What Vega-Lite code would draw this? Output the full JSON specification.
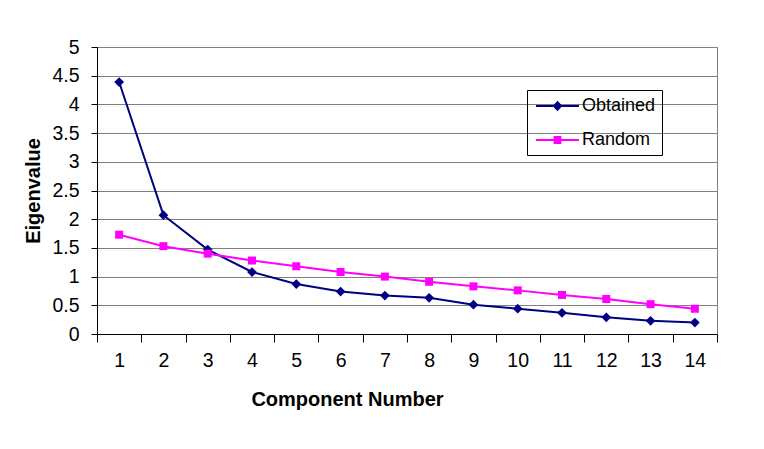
{
  "$schema": "https://vega.github.io/schema/vega-lite/v6.json",
  "width": 620,
  "height": 287,
  "autosize": {"type": "none"},
  "padding": {"left": 97, "top": 47, "right": 47, "bottom": 115},
  "background": "white",
  "config": {
    "font": "Liberation Sans",
    "view": {"stroke": "#808080", "strokeWidth": 1}
  },
  "data": {
    "values": [
      {"component": 1, "series": "Obtained", "value": 4.39},
      {"component": 2, "series": "Obtained", "value": 2.07},
      {"component": 3, "series": "Obtained", "value": 1.47},
      {"component": 4, "series": "Obtained", "value": 1.08},
      {"component": 5, "series": "Obtained", "value": 0.87},
      {"component": 6, "series": "Obtained", "value": 0.74},
      {"component": 7, "series": "Obtained", "value": 0.67},
      {"component": 8, "series": "Obtained", "value": 0.63},
      {"component": 9, "series": "Obtained", "value": 0.51},
      {"component": 10, "series": "Obtained", "value": 0.44},
      {"component": 11, "series": "Obtained", "value": 0.37},
      {"component": 12, "series": "Obtained", "value": 0.29},
      {"component": 13, "series": "Obtained", "value": 0.23},
      {"component": 14, "series": "Obtained", "value": 0.2},
      {"component": 1, "series": "Random", "value": 1.73},
      {"component": 2, "series": "Random", "value": 1.53},
      {"component": 3, "series": "Random", "value": 1.4},
      {"component": 4, "series": "Random", "value": 1.28},
      {"component": 5, "series": "Random", "value": 1.18},
      {"component": 6, "series": "Random", "value": 1.08},
      {"component": 7, "series": "Random", "value": 1.0},
      {"component": 8, "series": "Random", "value": 0.91},
      {"component": 9, "series": "Random", "value": 0.83},
      {"component": 10, "series": "Random", "value": 0.76},
      {"component": 11, "series": "Random", "value": 0.68},
      {"component": 12, "series": "Random", "value": 0.61},
      {"component": 13, "series": "Random", "value": 0.52},
      {"component": 14, "series": "Random", "value": 0.44}
    ]
  },
  "encoding": {
    "x": {
      "field": "component",
      "type": "quantitative",
      "scale": {"domain": [0.5, 14.5], "nice": false, "zero": false},
      "axis": {
        "values": [0.5, 1, 1.5, 2, 2.5, 3, 3.5, 4, 4.5, 5, 5.5, 6, 6.5, 7, 7.5, 8, 8.5, 9, 9.5, 10, 10.5, 11, 11.5, 12, 12.5, 13, 13.5, 14, 14.5],
        "labelExpr": "datum.value % 1 == 0 ? '' + datum.value : ''",
        "labelOverlap": false,
        "labelFlush": false,
        "labelFontSize": 19.5,
        "labelColor": "#000",
        "labelPadding": 9,
        "tickSize": 8,
        "tickColor": "#000",
        "tickOpacity": {"condition": {"test": "datum.value % 1 != 0", "value": 1}, "value": 0},
        "domainColor": "#000",
        "grid": false,
        "title": "Component Number",
        "titleFontSize": 20,
        "titleFontWeight": "bold",
        "titleColor": "#000",
        "titleX": 250,
        "titleY": 71,
        "titleAlign": "center",
        "titleBaseline": "alphabetic"
      }
    },
    "y": {
      "field": "value",
      "type": "quantitative",
      "scale": {"domain": [0, 5], "nice": false},
      "axis": {
        "values": [0, 0.5, 1, 1.5, 2, 2.5, 3, 3.5, 4, 4.5, 5],
        "labelExpr": "'' + datum.value",
        "labelFontSize": 19.5,
        "labelColor": "#000",
        "labelPadding": 12,
        "tickSize": 6,
        "tickColor": "#000",
        "domainColor": "#000",
        "grid": true,
        "gridColor": "#808080",
        "gridOpacity": 1,
        "title": "Eigenvalue",
        "titleFontSize": 20,
        "titleFontWeight": "bold",
        "titleColor": "#000",
        "titleAngle": 270,
        "titleX": -58,
        "titleY": 143.5,
        "titleAlign": "center",
        "titleBaseline": "alphabetic"
      }
    },
    "color": {
      "field": "series",
      "type": "nominal",
      "scale": {"domain": ["Obtained", "Random"], "range": ["#000080", "#FF00FF"]},
      "legend": {
        "orient": "none",
        "legendX": 430,
        "legendY": 43,
        "title": null,
        "strokeColor": "#000",
        "fillColor": "transparent",
        "padding": 6,
        "labelFontSize": 18,
        "labelColor": "#000",
        "labelOffset": 2,
        "symbolSize": 324,
        "symbolOffset": 27,
        "symbolStrokeWidth": 2,
        "rowPadding": 15,
        "encode": {
          "symbols": {
            "update": {
              "shape": {"signal": "datum.value == 'Obtained' ? 'M-3.78,0H1M-1.39,-0.42L-1,0L-1.39,0.42L-1.78,0Z' : 'M-3.78,0H1M-1.71,-0.33H-1.07V0.33H-1.71Z'"},
              "fill": {"signal": "datum.value == 'Obtained' ? '#000080' : '#FF00FF'"},
              "stroke": {"signal": "datum.value == 'Obtained' ? '#000080' : '#FF00FF'"},
              "strokeWidth": {"value": 2},
              "opacity": {"value": 1},
              "fillOpacity": {"value": 1}
            }
          }
        }
      }
    }
  },
  "layer": [
    {"mark": {"type": "line", "strokeWidth": 2}},
    {
      "transform": [{"filter": "datum.series == 'Obtained'"}],
      "mark": {"type": "point", "shape": "diamond", "filled": true, "opacity": 1, "size": 95}
    },
    {
      "transform": [{"filter": "datum.series == 'Random'"}],
      "mark": {"type": "point", "shape": "square", "filled": true, "opacity": 1, "size": 64}
    }
  ]
}
